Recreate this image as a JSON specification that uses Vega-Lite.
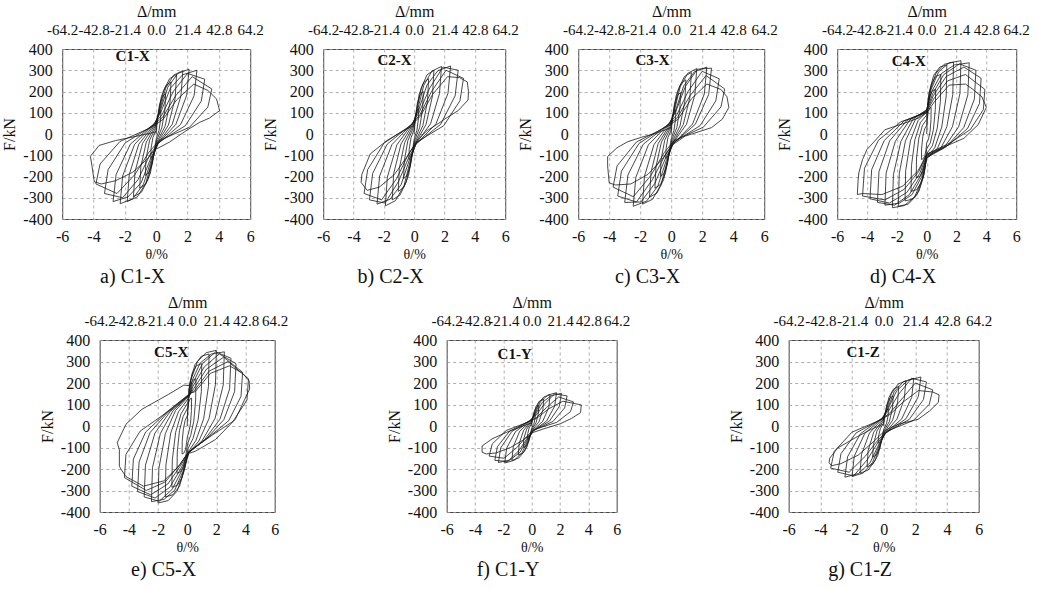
{
"$schema": "https://vega.github.io/schema/vega-lite/v6.json",
"padding": {"left": 1, "top": 2, "right": 2, "bottom": 2},
"background": "white",
"config": {
 "font": "Liberation Serif",
 "view": {"stroke": "#444", "strokeWidth": 1},
 "axis": {"labelFont": "Liberation Serif", "titleFont": "Liberation Serif", "labelFontSize": 16, "titleFontSize": 16, "titleFontWeight": "normal", "labelColor": "#111", "titleColor": "#111", "ticks": false, "domain": false, "gridColor": "#999", "gridDash": [3, 3], "gridWidth": 0.8, "labelOverlap": false},
 "title": {"font": "Liberation Serif", "fontSize": 20, "fontWeight": "normal", "color": "#111", "orient": "bottom", "offset": 6, "anchor": "middle", "frame": "bounds"}
},
"datasets": {
"a": [{"x":0,"y":0},
{"x":0.04,"y":39},{"x":0.11,"y":79},{"x":0.2,"y":102},{"x":0.3,"y":110},{"x":0.28,"y":66},{"x":0.18,"y":17},{"x":0.02,"y":-17},{"x":-0.04,"y":-40},{"x":-0.12,"y":-83},{"x":-0.23,"y":-107},{"x":-0.35,"y":-115},{"x":-0.33,"y":-69},{"x":-0.21,"y":-17},{"x":-0.02,"y":17},
{"x":0.07,"y":67},{"x":0.21,"y":137},{"x":0.39,"y":177},{"x":0.6,"y":190},{"x":0.56,"y":114},{"x":0.36,"y":29},{"x":0.03,"y":-29},{"x":-0.08,"y":-68},{"x":-0.25,"y":-140},{"x":-0.46,"y":-181},{"x":-0.7,"y":-195},{"x":-0.65,"y":-117},{"x":-0.42,"y":-29},{"x":-0.04,"y":29},
{"x":0.11,"y":86},{"x":0.33,"y":176},{"x":0.62,"y":228},{"x":0.95,"y":245},{"x":0.88,"y":147},{"x":0.57,"y":37},{"x":0.05,"y":-37},{"x":-0.13,"y":-89},{"x":-0.37,"y":-184},{"x":-0.68,"y":-237},{"x":-1.05,"y":-255},{"x":-0.98,"y":-153},{"x":-0.63,"y":-38},{"x":-0.05,"y":38},
{"x":0.16,"y":98},{"x":0.46,"y":202},{"x":0.85,"y":260},{"x":1.3,"y":280},{"x":1.21,"y":168},{"x":0.78,"y":42},{"x":0.07,"y":-42},{"x":-0.17,"y":-103},{"x":-0.51,"y":-212},{"x":-0.94,"y":-274},{"x":-1.45,"y":-295},{"x":-1.35,"y":-177},{"x":-0.87,"y":-44},{"x":-0.07,"y":44},
{"x":0.2,"y":104},{"x":0.6,"y":215},{"x":1.11,"y":277},{"x":1.7,"y":298},{"x":1.58,"y":179},{"x":1.02,"y":45},{"x":0.09,"y":-45},{"x":-0.22,"y":-111},{"x":-0.65,"y":-229},{"x":-1.2,"y":-296},{"x":-1.85,"y":-318},{"x":-1.72,"y":-191},{"x":-1.11,"y":-48},{"x":-0.09,"y":48},
{"x":0.25,"y":107},{"x":0.74,"y":220},{"x":1.37,"y":284},{"x":2.1,"y":305},{"x":1.95,"y":183},{"x":1.26,"y":46},{"x":0.11,"y":-46},{"x":-0.28,"y":-115},{"x":-0.81,"y":-236},{"x":-1.5,"y":-305},{"x":-2.3,"y":-328},{"x":-2.14,"y":-197},{"x":-1.38,"y":-49},{"x":-0.12,"y":49},
{"x":0.31,"y":105},{"x":0.91,"y":216},{"x":1.69,"y":279},{"x":2.6,"y":300},{"x":2.42,"y":180},{"x":1.56,"y":45},{"x":0.13,"y":-45},{"x":-0.33,"y":-111},{"x":-0.96,"y":-229},{"x":-1.79,"y":-296},{"x":-2.75,"y":-318},{"x":-2.56,"y":-191},{"x":-1.65,"y":-48},{"x":-0.14,"y":48},
{"x":0.37,"y":90},{"x":1.09,"y":200},{"x":2.0,"y":285},{"x":3.1,"y":258},{"x":2.88,"y":155},{"x":1.86,"y":39},{"x":0.16,"y":-39},{"x":-0.4,"y":-98},{"x":-1.16,"y":-215},{"x":-2.15,"y":-300},{"x":-3.3,"y":-280},{"x":-3.07,"y":-168},{"x":-1.98,"y":-42},{"x":-0.17,"y":42},
{"x":0.43,"y":80},{"x":1.24,"y":180},{"x":2.3,"y":270},{"x":3.55,"y":212},{"x":3.3,"y":127},{"x":2.13,"y":32},{"x":0.18,"y":-32},{"x":-0.46,"y":-85},{"x":-1.35,"y":-190},{"x":-2.5,"y":-280},{"x":-3.85,"y":-235},{"x":-3.58,"y":-141},{"x":-2.31,"y":-35},{"x":-0.19,"y":35},
{"x":0.45,"y":70},{"x":1.3,"y":160},{"x":2.4,"y":235},{"x":3.3,"y":205},{"x":3.85,"y":165},{"x":4.05,"y":110},{"x":3.4,"y":75},{"x":2.75,"y":54},{"x":1.9,"y":15},{"x":0.85,"y":-38},{"x":-0.1,"y":-75},{"x":-0.6,"y":-120},{"x":-1.5,"y":-180},{"x":-2.6,"y":-220},{"x":-3.5,"y":-235},{"x":-3.95,"y":-225},{"x":-4.1,"y":-150},{"x":-4.2,"y":-105},{"x":-3.65,"y":-54},{"x":-2.6,"y":-31},{"x":-1.1,"y":-8},{"x":0,"y":10}],
"b": [{"x":0,"y":0},
{"x":0.04,"y":42},{"x":0.11,"y":86},{"x":0.2,"y":112},{"x":0.3,"y":120},{"x":0.28,"y":72},{"x":0.18,"y":18},{"x":0.02,"y":-18},{"x":-0.04,"y":-42},{"x":-0.12,"y":-86},{"x":-0.23,"y":-112},{"x":-0.35,"y":-120},{"x":-0.33,"y":-72},{"x":-0.21,"y":-18},{"x":-0.02,"y":18},
{"x":0.07,"y":70},{"x":0.21,"y":144},{"x":0.39,"y":186},{"x":0.6,"y":200},{"x":0.56,"y":120},{"x":0.36,"y":30},{"x":0.03,"y":-30},{"x":-0.08,"y":-74},{"x":-0.25,"y":-151},{"x":-0.46,"y":-195},{"x":-0.7,"y":-210},{"x":-0.65,"y":-126},{"x":-0.42,"y":-32},{"x":-0.04,"y":32},
{"x":0.11,"y":91},{"x":0.33,"y":187},{"x":0.62,"y":242},{"x":0.95,"y":260},{"x":0.88,"y":156},{"x":0.57,"y":39},{"x":0.05,"y":-39},{"x":-0.13,"y":-95},{"x":-0.37,"y":-194},{"x":-0.68,"y":-251},{"x":-1.05,"y":-270},{"x":-0.98,"y":-162},{"x":-0.63,"y":-41},{"x":-0.05,"y":41},
{"x":0.16,"y":105},{"x":0.46,"y":216},{"x":0.85,"y":279},{"x":1.3,"y":300},{"x":1.21,"y":180},{"x":0.78,"y":45},{"x":0.07,"y":-45},{"x":-0.17,"y":-109},{"x":-0.51,"y":-223},{"x":-0.94,"y":-288},{"x":-1.45,"y":-310},{"x":-1.35,"y":-186},{"x":-0.87,"y":-47},{"x":-0.07,"y":47},
{"x":0.22,"y":111},{"x":0.63,"y":229},{"x":1.17,"y":296},{"x":1.8,"y":318},{"x":1.67,"y":191},{"x":1.08,"y":48},{"x":0.09,"y":-48},{"x":-0.23,"y":-118},{"x":-0.67,"y":-243},{"x":-1.24,"y":-314},{"x":-1.9,"y":-338},{"x":-1.77,"y":-203},{"x":-1.14,"y":-51},{"x":-0.1,"y":51},
{"x":0.29,"y":112},{"x":0.84,"y":230},{"x":1.56,"y":298},{"x":2.4,"y":320},{"x":2.23,"y":192},{"x":1.44,"y":48},{"x":0.12,"y":-48},{"x":-0.29,"y":-116},{"x":-0.86,"y":-238},{"x":-1.59,"y":-307},{"x":-2.45,"y":-330},{"x":-2.28,"y":-198},{"x":-1.47,"y":-50},{"x":-0.12,"y":50},
{"x":0.35,"y":105},{"x":1.02,"y":216},{"x":1.9,"y":315},{"x":2.9,"y":300},{"x":2.7,"y":180},{"x":1.74,"y":45},{"x":0.15,"y":-45},{"x":-0.35,"y":-109},{"x":-1.03,"y":-223},{"x":-1.92,"y":-325},{"x":-2.95,"y":-310},{"x":-2.74,"y":-186},{"x":-1.77,"y":-47},{"x":-0.15,"y":47},
{"x":0.39,"y":92},{"x":1.14,"y":200},{"x":2.1,"y":300},{"x":3.25,"y":262},{"x":3.02,"y":157},{"x":1.95,"y":39},{"x":0.16,"y":-39},{"x":-0.4,"y":-98},{"x":-1.16,"y":-210},{"x":-2.15,"y":-310},{"x":-3.3,"y":-280},{"x":-3.07,"y":-168},{"x":-1.98,"y":-42},{"x":-0.17,"y":42},
{"x":0.42,"y":85},{"x":1.2,"y":185},{"x":2.2,"y":270},{"x":3.0,"y":265},{"x":3.5,"y":245},{"x":3.58,"y":200},{"x":3.55,"y":160},{"x":2.9,"y":110},{"x":2.2,"y":79},{"x":1.4,"y":40},{"x":0.85,"y":16},{"x":0.2,"y":-30},{"x":-0.5,"y":-110},{"x":-1.3,"y":-190},{"x":-2.3,"y":-250},{"x":-3.1,"y":-265},{"x":-3.5,"y":-228},{"x":-3.45,"y":-190},{"x":-2.9,"y":-94},{"x":-1.8,"y":-31},{"x":-0.7,"y":16},{"x":0,"y":40}],
"c": [{"x":0,"y":0},
{"x":0.04,"y":40},{"x":0.11,"y":83},{"x":0.2,"y":107},{"x":0.3,"y":115},{"x":0.28,"y":69},{"x":0.18,"y":17},{"x":0.02,"y":-17},{"x":-0.04,"y":-40},{"x":-0.12,"y":-83},{"x":-0.23,"y":-107},{"x":-0.35,"y":-115},{"x":-0.33,"y":-69},{"x":-0.21,"y":-17},{"x":-0.02,"y":17},
{"x":0.07,"y":68},{"x":0.21,"y":140},{"x":0.39,"y":181},{"x":0.6,"y":195},{"x":0.56,"y":117},{"x":0.36,"y":29},{"x":0.03,"y":-29},{"x":-0.08,"y":-70},{"x":-0.25,"y":-144},{"x":-0.46,"y":-186},{"x":-0.7,"y":-200},{"x":-0.65,"y":-120},{"x":-0.42,"y":-30},{"x":-0.04,"y":30},
{"x":0.11,"y":89},{"x":0.33,"y":184},{"x":0.62,"y":237},{"x":0.95,"y":255},{"x":0.88,"y":153},{"x":0.57,"y":38},{"x":0.05,"y":-38},{"x":-0.13,"y":-89},{"x":-0.37,"y":-184},{"x":-0.68,"y":-237},{"x":-1.05,"y":-255},{"x":-0.98,"y":-153},{"x":-0.63,"y":-38},{"x":-0.05,"y":38},
{"x":0.16,"y":102},{"x":0.46,"y":209},{"x":0.85,"y":270},{"x":1.3,"y":290},{"x":1.21,"y":174},{"x":0.78,"y":44},{"x":0.07,"y":-44},{"x":-0.17,"y":-104},{"x":-0.49,"y":-215},{"x":-0.91,"y":-277},{"x":-1.4,"y":-298},{"x":-1.3,"y":-179},{"x":-0.84,"y":-45},{"x":-0.07,"y":45},
{"x":0.2,"y":108},{"x":0.58,"y":222},{"x":1.07,"y":286},{"x":1.65,"y":308},{"x":1.53,"y":185},{"x":0.99,"y":46},{"x":0.08,"y":-46},{"x":-0.22,"y":-116},{"x":-0.65,"y":-238},{"x":-1.2,"y":-307},{"x":-1.85,"y":-330},{"x":-1.72,"y":-198},{"x":-1.11,"y":-50},{"x":-0.09,"y":50},
{"x":0.28,"y":110},{"x":0.81,"y":227},{"x":1.5,"y":293},{"x":2.3,"y":315},{"x":2.14,"y":189},{"x":1.38,"y":47},{"x":0.12,"y":-47},{"x":-0.29,"y":-119},{"x":-0.86,"y":-245},{"x":-1.59,"y":-316},{"x":-2.45,"y":-340},{"x":-2.28,"y":-204},{"x":-1.47,"y":-51},{"x":-0.12,"y":51},
{"x":0.31,"y":108},{"x":0.91,"y":223},{"x":1.69,"y":305},{"x":2.6,"y":310},{"x":2.42,"y":186},{"x":1.56,"y":46},{"x":0.13,"y":-46},{"x":-0.36,"y":-113},{"x":-1.05,"y":-232},{"x":-1.95,"y":-320},{"x":-3.0,"y":-322},{"x":-2.79,"y":-193},{"x":-1.8,"y":-48},{"x":-0.15,"y":48},
{"x":0.37,"y":91},{"x":1.09,"y":200},{"x":2.0,"y":295},{"x":3.1,"y":260},{"x":2.88,"y":156},{"x":1.86,"y":39},{"x":0.16,"y":-39},{"x":-0.41,"y":-102},{"x":-1.21,"y":-215},{"x":-2.24,"y":-320},{"x":-3.45,"y":-292},{"x":-3.21,"y":-175},{"x":-2.07,"y":-44},{"x":-0.17,"y":44},
{"x":0.41,"y":78},{"x":1.21,"y":180},{"x":2.25,"y":275},{"x":3.45,"y":212},{"x":3.21,"y":127},{"x":2.07,"y":32},{"x":0.17,"y":-32},{"x":-0.45,"y":-88},{"x":-1.31,"y":-195},{"x":-2.44,"y":-295},{"x":-3.75,"y":-250},{"x":-3.49,"y":-150},{"x":-2.25,"y":-38},{"x":-0.19,"y":38},
{"x":0.45,"y":70},{"x":1.3,"y":165},{"x":2.3,"y":235},{"x":3.2,"y":210},{"x":3.6,"y":175},{"x":3.72,"y":125},{"x":3.3,"y":70},{"x":2.6,"y":30},{"x":1.8,"y":11},{"x":0.9,"y":-10},{"x":0.1,"y":-50},{"x":-0.6,"y":-120},{"x":-1.5,"y":-190},{"x":-2.6,"y":-235},{"x":-3.6,"y":-240},{"x":-4.0,"y":-230},{"x":-4.1,"y":-150},{"x":-4.1,"y":-106},{"x":-3.5,"y":-65},{"x":-2.8,"y":-36},{"x":-1.9,"y":-15},{"x":-1.0,"y":3},{"x":0,"y":30}],
"d": [{"x":0,"y":0},
{"x":0.04,"y":75},{"x":0.11,"y":106},{"x":0.2,"y":121},{"x":0.3,"y":125},{"x":0.29,"y":69},{"x":0.23,"y":13},{"x":0.12,"y":-25},{"x":0,"y":-41},{"x":-0.04,"y":-72},{"x":-0.12,"y":-102},{"x":-0.23,"y":-116},{"x":-0.35,"y":-120},{"x":-0.34,"y":-66},{"x":-0.26,"y":-12},{"x":-0.14,"y":24},{"x":0,"y":40},
{"x":0.07,"y":126},{"x":0.21,"y":179},{"x":0.39,"y":204},{"x":0.6,"y":210},{"x":0.58,"y":116},{"x":0.45,"y":21},{"x":0.24,"y":-42},{"x":0,"y":-69},{"x":-0.08,"y":-123},{"x":-0.25,"y":-174},{"x":-0.46,"y":-199},{"x":-0.7,"y":-205},{"x":-0.68,"y":-113},{"x":-0.53,"y":-21},{"x":-0.28,"y":41},{"x":0,"y":68},
{"x":0.11,"y":168},{"x":0.33,"y":238},{"x":0.62,"y":272},{"x":0.95,"y":280},{"x":0.92,"y":154},{"x":0.71,"y":28},{"x":0.38,"y":-56},{"x":0,"y":-92},{"x":-0.13,"y":-162},{"x":-0.37,"y":-230},{"x":-0.68,"y":-262},{"x":-1.05,"y":-270},{"x":-1.02,"y":-149},{"x":-0.79,"y":-27},{"x":-0.42,"y":54},{"x":0,"y":89},
{"x":0.16,"y":195},{"x":0.47,"y":276},{"x":0.88,"y":315},{"x":1.35,"y":325},{"x":1.31,"y":179},{"x":1.01,"y":33},{"x":0.54,"y":-65},{"x":0,"y":-107},{"x":-0.17,"y":-189},{"x":-0.51,"y":-268},{"x":-0.94,"y":-306},{"x":-1.45,"y":-315},{"x":-1.41,"y":-173},{"x":-1.09,"y":-32},{"x":-0.58,"y":63},{"x":0,"y":104},
{"x":0.22,"y":203},{"x":0.63,"y":287},{"x":1.17,"y":328},{"x":1.8,"y":338},{"x":1.75,"y":186},{"x":1.35,"y":34},{"x":0.72,"y":-68},{"x":0,"y":-112},{"x":-0.23,"y":-204},{"x":-0.67,"y":-289},{"x":-1.24,"y":-330},{"x":-1.9,"y":-340},{"x":-1.84,"y":-187},{"x":-1.43,"y":-34},{"x":-0.76,"y":68},{"x":0,"y":112},
{"x":0.28,"y":207},{"x":0.8,"y":293},{"x":1.5,"y":335},{"x":2.3,"y":345},{"x":2.23,"y":190},{"x":1.73,"y":35},{"x":0.92,"y":-69},{"x":0,"y":-114},{"x":-0.28,"y":-208},{"x":-0.8,"y":-295},{"x":-1.5,"y":-337},{"x":-2.3,"y":-347},{"x":-2.23,"y":-191},{"x":-1.73,"y":-35},{"x":-0.92,"y":69},{"x":0,"y":115},
{"x":0.34,"y":201},{"x":1.0,"y":285},{"x":1.85,"y":325},{"x":2.85,"y":335},{"x":2.76,"y":184},{"x":2.14,"y":34},{"x":1.14,"y":-67},{"x":0,"y":-111},{"x":-0.34,"y":-201},{"x":-0.98,"y":-285},{"x":-1.82,"y":-325},{"x":-2.8,"y":-335},{"x":-2.72,"y":-184},{"x":-2.1,"y":-34},{"x":-1.12,"y":67},{"x":0,"y":111},
{"x":0.4,"y":190},{"x":1.15,"y":280},{"x":2.2,"y":330},{"x":3.3,"y":300},{"x":3.2,"y":165},{"x":2.48,"y":30},{"x":1.32,"y":-60},{"x":0,"y":-105},{"x":-0.4,"y":-195},{"x":-1.16,"y":-285},{"x":-2.15,"y":-335},{"x":-3.3,"y":-322},{"x":-3.2,"y":-177},{"x":-2.48,"y":-32},{"x":-1.32,"y":64},{"x":0,"y":106},
{"x":0.44,"y":180},{"x":1.3,"y":270},{"x":2.5,"y":315},{"x":3.65,"y":262},{"x":3.54,"y":144},{"x":2.74,"y":26},{"x":1.46,"y":-52},{"x":0,"y":-100},{"x":-0.46,"y":-185},{"x":-1.33,"y":-275},{"x":-2.5,"y":-325},{"x":-3.8,"y":-305},{"x":-3.69,"y":-168},{"x":-2.85,"y":-31},{"x":-1.52,"y":61},{"x":0,"y":105},
{"x":0.47,"y":165},{"x":1.4,"y":250},{"x":2.6,"y":280},{"x":3.9,"y":210},{"x":3.8,"y":115},{"x":2.93,"y":21},{"x":1.56,"y":-42},{"x":0,"y":-95},{"x":-0.52,"y":-175},{"x":-1.5,"y":-260},{"x":-2.8,"y":-310},{"x":-4.3,"y":-292},{"x":-4.17,"y":-161},{"x":-3.23,"y":-29},{"x":-1.72,"y":58},{"x":0,"y":100},
{"x":0.5,"y":150},{"x":1.5,"y":230},{"x":2.6,"y":235},{"x":3.1,"y":210},{"x":3.7,"y":175},{"x":4.0,"y":125},{"x":3.45,"y":44},{"x":2.5,"y":-20},{"x":1.2,"y":-60},{"x":0,"y":-95},{"x":-0.55,"y":-170},{"x":-1.6,"y":-245},{"x":-3.0,"y":-285},{"x":-4.3,"y":-280},{"x":-4.65,"y":-285},{"x":-4.6,"y":-220},{"x":-4.55,"y":-183},{"x":-4.3,"y":-120},{"x":-4.0,"y":-73},{"x":-2.8,"y":20},{"x":-1.45,"y":52},{"x":-0.55,"y":75},{"x":0,"y":100}],
"e": [{"x":0,"y":0},
{"x":0.04,"y":78},{"x":0.11,"y":111},{"x":0.2,"y":126},{"x":0.3,"y":130},{"x":0.29,"y":72},{"x":0.23,"y":13},{"x":0.12,"y":-26},{"x":0.02,"y":-48},{"x":-0.04,"y":-78},{"x":-0.12,"y":-111},{"x":-0.23,"y":-126},{"x":-0.35,"y":-130},{"x":-0.34,"y":-72},{"x":-0.26,"y":-13},{"x":-0.14,"y":26},{"x":0.03,"y":52},
{"x":0.07,"y":132},{"x":0.21,"y":187},{"x":0.39,"y":213},{"x":0.6,"y":220},{"x":0.58,"y":121},{"x":0.45,"y":22},{"x":0.24,"y":-44},{"x":0.04,"y":-80},{"x":-0.08,"y":-132},{"x":-0.25,"y":-187},{"x":-0.46,"y":-213},{"x":-0.7,"y":-220},{"x":-0.68,"y":-121},{"x":-0.53,"y":-22},{"x":-0.28,"y":44},{"x":0.06,"y":88},
{"x":0.12,"y":174},{"x":0.35,"y":247},{"x":0.65,"y":281},{"x":1.0,"y":290},{"x":0.97,"y":160},{"x":0.75,"y":29},{"x":0.4,"y":-58},{"x":0.06,"y":-105},{"x":-0.13,"y":-171},{"x":-0.37,"y":-242},{"x":-0.68,"y":-276},{"x":-1.05,"y":-285},{"x":-1.02,"y":-157},{"x":-0.79,"y":-29},{"x":-0.42,"y":57},{"x":0.1,"y":115},
{"x":0.18,"y":201},{"x":0.53,"y":285},{"x":0.98,"y":325},{"x":1.5,"y":335},{"x":1.46,"y":184},{"x":1.13,"y":34},{"x":0.6,"y":-67},{"x":0.08,"y":-120},{"x":-0.18,"y":-198},{"x":-0.53,"y":-281},{"x":-0.98,"y":-320},{"x":-1.5,"y":-330},{"x":-1.46,"y":-182},{"x":-1.13,"y":-33},{"x":-0.6,"y":66},{"x":0.15,"y":135},
{"x":0.24,"y":211},{"x":0.7,"y":299},{"x":1.3,"y":341},{"x":2.0,"y":352},{"x":1.94,"y":194},{"x":1.5,"y":35},{"x":0.8,"y":-70},{"x":0.1,"y":-125},{"x":-0.24,"y":-215},{"x":-0.7,"y":-304},{"x":-1.3,"y":-347},{"x":-2.0,"y":-358},{"x":-1.94,"y":-197},{"x":-1.5,"y":-36},{"x":-0.8,"y":72},{"x":0.2,"y":145},
{"x":0.31,"y":207},{"x":0.89,"y":293},{"x":1.66,"y":335},{"x":2.55,"y":345},{"x":2.47,"y":190},{"x":1.91,"y":35},{"x":1.02,"y":-69},{"x":0.1,"y":-125},{"x":-0.29,"y":-211},{"x":-0.86,"y":-299},{"x":-1.59,"y":-341},{"x":-2.45,"y":-352},{"x":-2.38,"y":-194},{"x":-1.84,"y":-35},{"x":-0.98,"y":70},{"x":0.2,"y":148},
{"x":0.36,"y":195},{"x":1.05,"y":290},{"x":1.95,"y":345},{"x":3.0,"y":315},{"x":2.91,"y":173},{"x":2.25,"y":32},{"x":1.2,"y":-63},{"x":0.1,"y":-125},{"x":-0.35,"y":-205},{"x":-1.03,"y":-295},{"x":-1.92,"y":-350},{"x":-2.95,"y":-330},{"x":-2.86,"y":-182},{"x":-2.21,"y":-33},{"x":-1.18,"y":66},{"x":0.2,"y":148},
{"x":0.4,"y":185},{"x":1.17,"y":275},{"x":2.2,"y":335},{"x":3.35,"y":290},{"x":3.25,"y":160},{"x":2.51,"y":29},{"x":1.34,"y":-58},{"x":0.1,"y":-123},{"x":-0.41,"y":-195},{"x":-1.19,"y":-285},{"x":-2.2,"y":-335},{"x":-3.4,"y":-305},{"x":-3.3,"y":-168},{"x":-2.55,"y":-31},{"x":-1.36,"y":61},{"x":0.2,"y":148},
{"x":0.46,"y":175},{"x":1.33,"y":265},{"x":2.5,"y":320},{"x":3.8,"y":250},{"x":3.69,"y":138},{"x":2.85,"y":25},{"x":1.52,"y":-50},{"x":0.1,"y":-122},{"x":-0.46,"y":-185},{"x":-1.33,"y":-270},{"x":-2.5,"y":-320},{"x":-3.8,"y":-280},{"x":-3.69,"y":-154},{"x":-2.85,"y":-28},{"x":-1.52,"y":56},{"x":0.2,"y":150},
{"x":0.5,"y":165},{"x":1.5,"y":255},{"x":2.8,"y":300},{"x":4.2,"y":220},{"x":4.1,"y":121},{"x":3.15,"y":22},{"x":1.68,"y":-44},{"x":0.1,"y":-120},{"x":-0.52,"y":-180},{"x":-1.5,"y":-260},{"x":-2.8,"y":-300},{"x":-4.3,"y":-240},{"x":-4.2,"y":-132},{"x":-3.23,"y":-24},{"x":-1.72,"y":48},{"x":0.2,"y":152},
{"x":0.55,"y":160},{"x":1.6,"y":245},{"x":2.9,"y":280},{"x":3.8,"y":245},{"x":4.25,"y":210},{"x":4.28,"y":172},{"x":3.3,"y":31},{"x":1.94,"y":-63},{"x":0.57,"y":-117},{"x":0,"y":-130},{"x":-0.55,"y":-185},{"x":-1.6,"y":-255},{"x":-3.0,"y":-280},{"x":-4.2,"y":-235},{"x":-4.5,"y":-205},{"x":-4.65,"y":-187},{"x":-4.65,"y":-110},{"x":-4.8,"y":-78},{"x":-4.2,"y":8},{"x":-3.1,"y":78},{"x":-1.26,"y":148},{"x":-0.23,"y":190},{"x":0.3,"y":187}],
"f": [{"x":0,"y":0},
{"x":0.03,"y":19},{"x":0.09,"y":40},{"x":0.16,"y":51},{"x":0.25,"y":55},{"x":0.23,"y":33},{"x":0.15,"y":8},{"x":0.01,"y":-8},{"x":-0.04,"y":-21},{"x":-0.11,"y":-43},{"x":-0.2,"y":-56},{"x":-0.3,"y":-60},{"x":-0.28,"y":-36},{"x":-0.18,"y":-9},{"x":-0.02,"y":9},
{"x":0.06,"y":33},{"x":0.18,"y":68},{"x":0.33,"y":88},{"x":0.5,"y":95},{"x":0.47,"y":57},{"x":0.3,"y":14},{"x":0.03,"y":-14},{"x":-0.07,"y":-35},{"x":-0.21,"y":-72},{"x":-0.39,"y":-93},{"x":-0.6,"y":-100},{"x":-0.56,"y":-60},{"x":-0.36,"y":-15},{"x":-0.03,"y":15},
{"x":0.1,"y":44},{"x":0.3,"y":90},{"x":0.55,"y":116},{"x":0.85,"y":125},{"x":0.79,"y":75},{"x":0.51,"y":19},{"x":0.04,"y":-19},{"x":-0.11,"y":-47},{"x":-0.33,"y":-97},{"x":-0.62,"y":-126},{"x":-0.95,"y":-135},{"x":-0.88,"y":-81},{"x":-0.57,"y":-20},{"x":-0.05,"y":20},
{"x":0.16,"y":51},{"x":0.46,"y":104},{"x":0.85,"y":135},{"x":1.3,"y":145},{"x":1.21,"y":87},{"x":0.78,"y":22},{"x":0.07,"y":-22},{"x":-0.17,"y":-56},{"x":-0.49,"y":-115},{"x":-0.91,"y":-149},{"x":-1.4,"y":-160},{"x":-1.3,"y":-96},{"x":-0.84,"y":-24},{"x":-0.07,"y":24},
{"x":0.21,"y":54},{"x":0.61,"y":112},{"x":1.14,"y":144},{"x":1.75,"y":155},{"x":1.63,"y":93},{"x":1.05,"y":23},{"x":0.09,"y":-23},{"x":-0.23,"y":-60},{"x":-0.67,"y":-124},{"x":-1.24,"y":-160},{"x":-1.9,"y":-172},{"x":-1.77,"y":-103},{"x":-1.14,"y":-26},{"x":-0.1,"y":26},
{"x":0.25,"y":53},{"x":0.74,"y":109},{"x":1.37,"y":141},{"x":2.1,"y":152},{"x":1.95,"y":91},{"x":1.26,"y":23},{"x":0.11,"y":-23},{"x":-0.28,"y":-60},{"x":-0.82,"y":-122},{"x":-1.53,"y":-158},{"x":-2.35,"y":-170},{"x":-2.19,"y":-102},{"x":-1.41,"y":-26},{"x":-0.12,"y":26},
{"x":0.3,"y":49},{"x":0.88,"y":101},{"x":1.63,"y":150},{"x":2.5,"y":140},{"x":2.33,"y":84},{"x":1.5,"y":21},{"x":0.13,"y":-21},{"x":-0.31,"y":-56},{"x":-0.91,"y":-115},{"x":-1.69,"y":-165},{"x":-2.6,"y":-160},{"x":-2.42,"y":-96},{"x":-1.56,"y":-24},{"x":-0.13,"y":24},
{"x":0.35,"y":40},{"x":1.03,"y":85},{"x":1.9,"y":135},{"x":2.95,"y":112},{"x":2.74,"y":67},{"x":1.77,"y":17},{"x":0.15,"y":-17},{"x":-0.36,"y":-49},{"x":-1.05,"y":-100},{"x":-1.95,"y":-150},{"x":-3.0,"y":-140},{"x":-2.79,"y":-84},{"x":-1.8,"y":-21},{"x":-0.15,"y":21},
{"x":0.4,"y":38},{"x":1.2,"y":80},{"x":2.2,"y":115},{"x":3.0,"y":105},{"x":3.5,"y":98},{"x":3.45,"y":62},{"x":2.8,"y":35},{"x":2.0,"y":10},{"x":1.0,"y":-10},{"x":0.1,"y":-30},{"x":-0.6,"y":-65},{"x":-1.5,"y":-100},{"x":-2.5,"y":-125},{"x":-3.2,"y":-130},{"x":-3.5,"y":-122},{"x":-3.5,"y":-93},{"x":-2.8,"y":-60},{"x":-1.8,"y":-30},{"x":-0.8,"y":-5},{"x":0,"y":15}],
"g": [{"x":0,"y":0},
{"x":0.04,"y":28},{"x":0.11,"y":58},{"x":0.2,"y":74},{"x":0.3,"y":80},{"x":0.28,"y":48},{"x":0.18,"y":12},{"x":0.02,"y":-12},{"x":-0.04,"y":-28},{"x":-0.12,"y":-58},{"x":-0.23,"y":-74},{"x":-0.35,"y":-80},{"x":-0.33,"y":-48},{"x":-0.21,"y":-12},{"x":-0.02,"y":12},
{"x":0.07,"y":49},{"x":0.21,"y":101},{"x":0.39,"y":130},{"x":0.6,"y":140},{"x":0.56,"y":84},{"x":0.36,"y":21},{"x":0.03,"y":-21},{"x":-0.08,"y":-51},{"x":-0.25,"y":-104},{"x":-0.46,"y":-135},{"x":-0.7,"y":-145},{"x":-0.65,"y":-87},{"x":-0.42,"y":-22},{"x":-0.04,"y":22},
{"x":0.11,"y":65},{"x":0.33,"y":133},{"x":0.62,"y":172},{"x":0.95,"y":185},{"x":0.88,"y":111},{"x":0.57,"y":28},{"x":0.05,"y":-28},{"x":-0.13,"y":-67},{"x":-0.37,"y":-137},{"x":-0.68,"y":-177},{"x":-1.05,"y":-190},{"x":-0.98,"y":-114},{"x":-0.63,"y":-29},{"x":-0.05,"y":29},
{"x":0.17,"y":74},{"x":0.49,"y":151},{"x":0.91,"y":195},{"x":1.4,"y":210},{"x":1.3,"y":126},{"x":0.84,"y":32},{"x":0.07,"y":-32},{"x":-0.18,"y":-77},{"x":-0.53,"y":-158},{"x":-0.98,"y":-205},{"x":-1.5,"y":-220},{"x":-1.4,"y":-132},{"x":-0.9,"y":-33},{"x":-0.08,"y":33},
{"x":0.23,"y":78},{"x":0.67,"y":160},{"x":1.24,"y":206},{"x":1.9,"y":222},{"x":1.77,"y":133},{"x":1.14,"y":33},{"x":0.1,"y":-33},{"x":-0.24,"y":-82},{"x":-0.7,"y":-169},{"x":-1.3,"y":-219},{"x":-2.0,"y":-235},{"x":-1.86,"y":-141},{"x":-1.2,"y":-35},{"x":-0.1,"y":35},
{"x":0.28,"y":80},{"x":0.82,"y":164},{"x":1.53,"y":212},{"x":2.35,"y":228},{"x":2.19,"y":137},{"x":1.41,"y":34},{"x":0.12,"y":-34},{"x":-0.29,"y":-83},{"x":-0.86,"y":-171},{"x":-1.59,"y":-221},{"x":-2.45,"y":-238},{"x":-2.28,"y":-143},{"x":-1.47,"y":-36},{"x":-0.12,"y":36},
{"x":0.32,"y":72},{"x":0.95,"y":148},{"x":1.76,"y":222},{"x":2.7,"y":205},{"x":2.51,"y":123},{"x":1.62,"y":31},{"x":0.14,"y":-31},{"x":-0.35,"y":-75},{"x":-1.02,"y":-155},{"x":-1.89,"y":-232},{"x":-2.9,"y":-215},{"x":-2.7,"y":-129},{"x":-1.74,"y":-32},{"x":-0.15,"y":32},
{"x":0.37,"y":59},{"x":1.09,"y":121},{"x":2.0,"y":200},{"x":3.1,"y":168},{"x":2.88,"y":101},{"x":1.86,"y":25},{"x":0.16,"y":-25},{"x":-0.4,"y":-69},{"x":-1.17,"y":-141},{"x":-2.18,"y":-215},{"x":-3.35,"y":-196},{"x":-3.12,"y":-118},{"x":-2.01,"y":-29},{"x":-0.17,"y":29},
{"x":0.42,"y":55},{"x":1.2,"y":110},{"x":2.2,"y":165},{"x":3.1,"y":158},{"x":3.5,"y":145},{"x":3.45,"y":110},{"x":2.9,"y":70},{"x":2.17,"y":31},{"x":0.9,"y":8},{"x":0.1,"y":-20},{"x":-0.6,"y":-70},{"x":-1.6,"y":-135},{"x":-2.7,"y":-175},{"x":-3.3,"y":-185},{"x":-3.45,"y":-170},{"x":-3.4,"y":-149},{"x":-2.9,"y":-102},{"x":-1.8,"y":-55},{"x":-0.8,"y":-16},{"x":0,"y":10}]
},
"vconcat": [
{"hconcat": [
 {"width": 188, "height": 170, "title": {"text": "a) C1-X"},
  "layer": [
   {"data": {"name": "a"}, "mark": {"type": "line", "color": "#1a1a1a", "strokeWidth": 0.8, "order": false},
    "encoding": {"x": {"field": "x", "type": "quantitative", "scale": {"domain": [-6, 6], "nice": false}, "axis": {"values": [-6,-4,-2,0,2,4,6], "title": "θ/%", "titleFontSize": 14, "labelFontSize": 16, "labelFont": "Liberation Serif", "titleFont": "Liberation Serif", "labelPadding": 9, "titlePadding": 3, "labelFlush": false, "labelOverlap": false, "labelExpr": "replace(datum.label, '−', '-')"}},
     "y": {"field": "y", "type": "quantitative", "scale": {"domain": [-400, 400], "nice": false}, "axis": {"values": [-400,-300,-200,-100,0,100,200,300,400], "title": "F/kN", "titleFontSize": 16, "labelFontSize": 16, "labelFont": "Liberation Serif", "titleFont": "Liberation Serif", "labelPadding": 10, "titlePadding": 5, "labelFlush": false, "labelOverlap": false, "labelExpr": "replace(datum.label, '−', '-')"}}}},
   {"data": {"values": [{"t": "C1-X"}]}, "mark": {"type": "text", "font": "Liberation Serif", "fontWeight": "bold", "fontSize": 15, "color": "#111"}, "encoding": {"text": {"field": "t"}, "x": {"datum": -1.5, "axis": null}, "y": {"datum": 365, "axis": null}}},
   {"data": {"values": [{"d": 0}]}, "mark": {"type": "point", "opacity": 0},
    "encoding": {"x": {"field": "d", "type": "quantitative", "axis": {"orient": "top", "values": [-6,-4,-2,0,2,4,6], "labelExpr": "replace(format(datum.value * 10.7, '.1f'), '−', '-')", "title": "Δ/mm", "titleFontSize": 16, "labelFontSize": 15, "labelFont": "Liberation Serif", "titleFont": "Liberation Serif", "labelPadding": 12, "titlePadding": 3, "grid": false, "labelOverlap": false, "labelFlush": false, "labelBound": false}}}}
  ],
  "resolve": {"axis": {"x": "independent", "y": "independent"}}},
 {"width": 182, "height": 170, "title": {"text": "b) C2-X"},
  "layer": [
   {"data": {"name": "b"}, "mark": {"type": "line", "color": "#1a1a1a", "strokeWidth": 0.8, "order": false},
    "encoding": {"x": {"field": "x", "type": "quantitative", "scale": {"domain": [-6, 6], "nice": false}, "axis": {"values": [-6,-4,-2,0,2,4,6], "title": "θ/%", "titleFontSize": 14, "labelFontSize": 16, "labelFont": "Liberation Serif", "titleFont": "Liberation Serif", "labelPadding": 9, "titlePadding": 3, "labelFlush": false, "labelOverlap": false, "labelExpr": "replace(datum.label, '−', '-')"}},
     "y": {"field": "y", "type": "quantitative", "scale": {"domain": [-400, 400], "nice": false}, "axis": {"values": [-400,-300,-200,-100,0,100,200,300,400], "title": "F/kN", "titleFontSize": 16, "labelFontSize": 16, "labelFont": "Liberation Serif", "titleFont": "Liberation Serif", "labelPadding": 10, "titlePadding": 5, "labelFlush": false, "labelOverlap": false, "labelExpr": "replace(datum.label, '−', '-')"}}}},
   {"data": {"values": [{"t": "C2-X"}]}, "mark": {"type": "text", "font": "Liberation Serif", "fontWeight": "bold", "fontSize": 15, "color": "#111"}, "encoding": {"text": {"field": "t"}, "x": {"datum": -1.3, "axis": null}, "y": {"datum": 350, "axis": null}}},
   {"data": {"values": [{"d": 0}]}, "mark": {"type": "point", "opacity": 0},
    "encoding": {"x": {"field": "d", "type": "quantitative", "axis": {"orient": "top", "values": [-6,-4,-2,0,2,4,6], "labelExpr": "replace(format(datum.value * 10.7, '.1f'), '−', '-')", "title": "Δ/mm", "titleFontSize": 16, "labelFontSize": 15, "labelFont": "Liberation Serif", "titleFont": "Liberation Serif", "labelPadding": 12, "titlePadding": 3, "grid": false, "labelOverlap": false, "labelFlush": false, "labelBound": false}}}}
  ],
  "resolve": {"axis": {"x": "independent", "y": "independent"}}},
 {"width": 186, "height": 170, "title": {"text": "c) C3-X"},
  "layer": [
   {"data": {"name": "c"}, "mark": {"type": "line", "color": "#1a1a1a", "strokeWidth": 0.8, "order": false},
    "encoding": {"x": {"field": "x", "type": "quantitative", "scale": {"domain": [-6, 6], "nice": false}, "axis": {"values": [-6,-4,-2,0,2,4,6], "title": "θ/%", "titleFontSize": 14, "labelFontSize": 16, "labelFont": "Liberation Serif", "titleFont": "Liberation Serif", "labelPadding": 9, "titlePadding": 3, "labelFlush": false, "labelOverlap": false, "labelExpr": "replace(datum.label, '−', '-')"}},
     "y": {"field": "y", "type": "quantitative", "scale": {"domain": [-400, 400], "nice": false}, "axis": {"values": [-400,-300,-200,-100,0,100,200,300,400], "title": "F/kN", "titleFontSize": 16, "labelFontSize": 16, "labelFont": "Liberation Serif", "titleFont": "Liberation Serif", "labelPadding": 10, "titlePadding": 5, "labelFlush": false, "labelOverlap": false, "labelExpr": "replace(datum.label, '−', '-')"}}}},
   {"data": {"values": [{"t": "C3-X"}]}, "mark": {"type": "text", "font": "Liberation Serif", "fontWeight": "bold", "fontSize": 15, "color": "#111"}, "encoding": {"text": {"field": "t"}, "x": {"datum": -1.2, "axis": null}, "y": {"datum": 350, "axis": null}}},
   {"data": {"values": [{"d": 0}]}, "mark": {"type": "point", "opacity": 0},
    "encoding": {"x": {"field": "d", "type": "quantitative", "axis": {"orient": "top", "values": [-6,-4,-2,0,2,4,6], "labelExpr": "replace(format(datum.value * 10.7, '.1f'), '−', '-')", "title": "Δ/mm", "titleFontSize": 16, "labelFontSize": 15, "labelFont": "Liberation Serif", "titleFont": "Liberation Serif", "labelPadding": 12, "titlePadding": 3, "grid": false, "labelOverlap": false, "labelFlush": false, "labelBound": false}}}}
  ],
  "resolve": {"axis": {"x": "independent", "y": "independent"}}},
 {"width": 179, "height": 170, "title": {"text": "d) C4-X"},
  "layer": [
   {"data": {"name": "d"}, "mark": {"type": "line", "color": "#1a1a1a", "strokeWidth": 0.8, "order": false},
    "encoding": {"x": {"field": "x", "type": "quantitative", "scale": {"domain": [-6, 6], "nice": false}, "axis": {"values": [-6,-4,-2,0,2,4,6], "title": "θ/%", "titleFontSize": 14, "labelFontSize": 16, "labelFont": "Liberation Serif", "titleFont": "Liberation Serif", "labelPadding": 9, "titlePadding": 3, "labelFlush": false, "labelOverlap": false, "labelExpr": "replace(datum.label, '−', '-')"}},
     "y": {"field": "y", "type": "quantitative", "scale": {"domain": [-400, 400], "nice": false}, "axis": {"values": [-400,-300,-200,-100,0,100,200,300,400], "title": "F/kN", "titleFontSize": 16, "labelFontSize": 16, "labelFont": "Liberation Serif", "titleFont": "Liberation Serif", "labelPadding": 10, "titlePadding": 5, "labelFlush": false, "labelOverlap": false, "labelExpr": "replace(datum.label, '−', '-')"}}}},
   {"data": {"values": [{"t": "C4-X"}]}, "mark": {"type": "text", "font": "Liberation Serif", "fontWeight": "bold", "fontSize": 15, "color": "#111"}, "encoding": {"text": {"field": "t"}, "x": {"datum": -1.2, "axis": null}, "y": {"datum": 345, "axis": null}}},
   {"data": {"values": [{"d": 0}]}, "mark": {"type": "point", "opacity": 0},
    "encoding": {"x": {"field": "d", "type": "quantitative", "axis": {"orient": "top", "values": [-6,-4,-2,0,2,4,6], "labelExpr": "replace(format(datum.value * 10.7, '.1f'), '−', '-')", "title": "Δ/mm", "titleFontSize": 16, "labelFontSize": 15, "labelFont": "Liberation Serif", "titleFont": "Liberation Serif", "labelPadding": 12, "titlePadding": 3, "grid": false, "labelOverlap": false, "labelFlush": false, "labelBound": false}}}}
  ],
  "resolve": {"axis": {"x": "independent", "y": "independent"}}}
], "spacing": 73, "bounds": "flush"},
{"hconcat": [
 {"width": 175, "height": 172, "title": {"text": "e) C5-X"},
  "layer": [
   {"data": {"name": "e"}, "mark": {"type": "line", "color": "#1a1a1a", "strokeWidth": 0.8, "order": false},
    "encoding": {"x": {"field": "x", "type": "quantitative", "scale": {"domain": [-6, 6], "nice": false}, "axis": {"values": [-6,-4,-2,0,2,4,6], "title": "θ/%", "titleFontSize": 14, "labelFontSize": 16, "labelFont": "Liberation Serif", "titleFont": "Liberation Serif", "labelPadding": 9, "titlePadding": 3, "labelFlush": false, "labelOverlap": false, "labelExpr": "replace(datum.label, '−', '-')"}},
     "y": {"field": "y", "type": "quantitative", "scale": {"domain": [-400, 400], "nice": false}, "axis": {"values": [-400,-300,-200,-100,0,100,200,300,400], "title": "F/kN", "titleFontSize": 16, "labelFontSize": 16, "labelFont": "Liberation Serif", "titleFont": "Liberation Serif", "labelPadding": 10, "titlePadding": 5, "labelFlush": false, "labelOverlap": false, "labelExpr": "replace(datum.label, '−', '-')"}}}},
   {"data": {"values": [{"t": "C5-X"}]}, "mark": {"type": "text", "font": "Liberation Serif", "fontWeight": "bold", "fontSize": 15, "color": "#111"}, "encoding": {"text": {"field": "t"}, "x": {"datum": -1.1, "axis": null}, "y": {"datum": 345, "axis": null}}},
   {"data": {"values": [{"d": 0}]}, "mark": {"type": "point", "opacity": 0},
    "encoding": {"x": {"field": "d", "type": "quantitative", "axis": {"orient": "top", "values": [-6,-4,-2,0,2,4,6], "labelExpr": "replace(format(datum.value * 10.7, '.1f'), '−', '-')", "title": "Δ/mm", "titleFontSize": 16, "labelFontSize": 15, "labelFont": "Liberation Serif", "titleFont": "Liberation Serif", "labelPadding": 12, "titlePadding": 3, "grid": false, "labelOverlap": false, "labelFlush": false, "labelBound": false}}}}
  ],
  "resolve": {"axis": {"x": "independent", "y": "independent"}}},
 {"width": 170, "height": 172, "title": {"text": "f) C1-Y"},
  "layer": [
   {"data": {"name": "f"}, "mark": {"type": "line", "color": "#1a1a1a", "strokeWidth": 0.8, "order": false},
    "encoding": {"x": {"field": "x", "type": "quantitative", "scale": {"domain": [-6, 6], "nice": false}, "axis": {"values": [-6,-4,-2,0,2,4,6], "title": "θ/%", "titleFontSize": 14, "labelFontSize": 16, "labelFont": "Liberation Serif", "titleFont": "Liberation Serif", "labelPadding": 9, "titlePadding": 3, "labelFlush": false, "labelOverlap": false, "labelExpr": "replace(datum.label, '−', '-')"}},
     "y": {"field": "y", "type": "quantitative", "scale": {"domain": [-400, 400], "nice": false}, "axis": {"values": [-400,-300,-200,-100,0,100,200,300,400], "title": "F/kN", "titleFontSize": 16, "labelFontSize": 16, "labelFont": "Liberation Serif", "titleFont": "Liberation Serif", "labelPadding": 10, "titlePadding": 5, "labelFlush": false, "labelOverlap": false, "labelExpr": "replace(datum.label, '−', '-')"}}}},
   {"data": {"values": [{"t": "C1-Y"}]}, "mark": {"type": "text", "font": "Liberation Serif", "fontWeight": "bold", "fontSize": 15, "color": "#111"}, "encoding": {"text": {"field": "t"}, "x": {"datum": -1.2, "axis": null}, "y": {"datum": 335, "axis": null}}},
   {"data": {"values": [{"d": 0}]}, "mark": {"type": "point", "opacity": 0},
    "encoding": {"x": {"field": "d", "type": "quantitative", "axis": {"orient": "top", "values": [-6,-4,-2,0,2,4,6], "labelExpr": "replace(format(datum.value * 10.7, '.1f'), '−', '-')", "title": "Δ/mm", "titleFontSize": 16, "labelFontSize": 15, "labelFont": "Liberation Serif", "titleFont": "Liberation Serif", "labelPadding": 12, "titlePadding": 3, "grid": false, "labelOverlap": false, "labelFlush": false, "labelBound": false}}}}
  ],
  "resolve": {"axis": {"x": "independent", "y": "independent"}}},
 {"width": 190, "height": 172, "title": {"text": "g) C1-Z"},
  "layer": [
   {"data": {"name": "g"}, "mark": {"type": "line", "color": "#1a1a1a", "strokeWidth": 0.8, "order": false},
    "encoding": {"x": {"field": "x", "type": "quantitative", "scale": {"domain": [-6, 6], "nice": false}, "axis": {"values": [-6,-4,-2,0,2,4,6], "title": "θ/%", "titleFontSize": 14, "labelFontSize": 16, "labelFont": "Liberation Serif", "titleFont": "Liberation Serif", "labelPadding": 9, "titlePadding": 3, "labelFlush": false, "labelOverlap": false, "labelExpr": "replace(datum.label, '−', '-')"}},
     "y": {"field": "y", "type": "quantitative", "scale": {"domain": [-400, 400], "nice": false}, "axis": {"values": [-400,-300,-200,-100,0,100,200,300,400], "title": "F/kN", "titleFontSize": 16, "labelFontSize": 16, "labelFont": "Liberation Serif", "titleFont": "Liberation Serif", "labelPadding": 10, "titlePadding": 5, "labelFlush": false, "labelOverlap": false, "labelExpr": "replace(datum.label, '−', '-')"}}}},
   {"data": {"values": [{"t": "C1-Z"}]}, "mark": {"type": "text", "font": "Liberation Serif", "fontWeight": "bold", "fontSize": 15, "color": "#111"}, "encoding": {"text": {"field": "t"}, "x": {"datum": -1.3, "axis": null}, "y": {"datum": 345, "axis": null}}},
   {"data": {"values": [{"d": 0}]}, "mark": {"type": "point", "opacity": 0},
    "encoding": {"x": {"field": "d", "type": "quantitative", "axis": {"orient": "top", "values": [-6,-4,-2,0,2,4,6], "labelExpr": "replace(format(datum.value * 10.7, '.1f'), '−', '-')", "title": "Δ/mm", "titleFontSize": 16, "labelFontSize": 15, "labelFont": "Liberation Serif", "titleFont": "Liberation Serif", "labelPadding": 12, "titlePadding": 3, "grid": false, "labelOverlap": false, "labelFlush": false, "labelBound": false}}}}
  ],
  "resolve": {"axis": {"x": "independent", "y": "independent"}}}
], "spacing": 172, "bounds": "flush"}
],
"spacing": 5, "center": true
}
